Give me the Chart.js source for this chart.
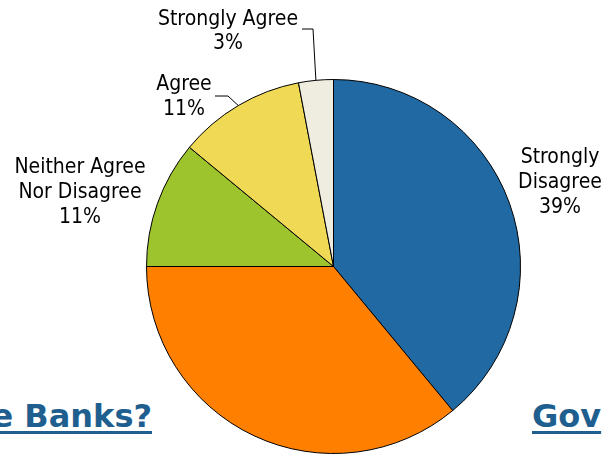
<!DOCTYPE html>
<html>
<head>
<meta charset="utf-8">
<script src="https://cdn.jsdelivr.net/npm/chart.js@4/dist/chart.umd.min.js"></script>
<style>
  html, body { margin: 0; padding: 0; background: #fff; overflow: hidden; }
  #wrap { position: relative; width: 604px; height: 454px; overflow: hidden; }
  #pie { position: absolute; left: 0; top: 0; }
  .head {
    position: absolute;
    font: bold 32px "DejaVu Sans", Verdana, sans-serif;
    color: #1f5f8f;
    text-decoration: underline;
    text-decoration-thickness: 3px;
    text-underline-offset: 4px;
    white-space: nowrap;
    line-height: 1;
  }
</style>
</head>
<body>
<div id="wrap">
  <span class="head" style="right:452px; top:400px;">e Banks?</span>
  <span class="head" style="left:532px; top:400px;">Gov</span>
  <canvas id="pie" width="604" height="454"></canvas>
</div>
<script>
// answers, clockwise from 12 o'clock
const categories = ['Strongly Disagree', 'Disagree', 'Neither Agree Nor Disagree', 'Agree', 'Strongly Agree'];
const shares = [39, 36, 11, 11, 3];
const sliceColors = ['#2169a3', '#ff7f00', '#9dc42c', '#f0d955', '#efede0'];

// how each label is written (the orange slice has none)
const labelLines = [
    ['Strongly', 'Disagree'],
    null,
    ['Neither Agree', 'Nor Disagree'],
    ['Agree'],
    ['Strongly Agree']
];

// label block: centre x, first baseline, line step; optional leader from text to slice edge
const labelSpots = [
    { x: 560, y: 163, step: 25 },
    null,
    { x: 80, y: 173, step: 25 },
    { x: 184, y: 90, step: 25, leader: [[215, 96], [228, 96]] },
    { x: 228, y: 25, step: 24, leader: [[302, 29], [313, 29]] }
];

const pieLabels = {
    id: 'pieLabels',
    afterDatasetsDraw(chart) {
        const ctx = chart.ctx;
        const arcs = chart.getDatasetMeta(0).data;
        ctx.save();
        ctx.fillStyle = '#000';
        ctx.font = '21px "DejaVu Sans Condensed", "DejaVu Sans", sans-serif';
        ctx.textAlign = 'center';
        ctx.textBaseline = 'alphabetic';
        labelSpots.forEach((spot, i) => {
            if (!spot) return;
            const lines = labelLines[i].concat([shares[i] + '%']);
            lines.forEach((t, k) => ctx.fillText(t, spot.x, spot.y + k * spot.step));

            if (spot.leader) {
                const a = arcs[i];
                const mid = (a.startAngle + a.endAngle) / 2;
                const ex = a.x + Math.cos(mid) * a.outerRadius;
                const ey = a.y + Math.sin(mid) * a.outerRadius;
                ctx.strokeStyle = '#000';
                ctx.lineWidth = 1;
                ctx.beginPath();
                ctx.moveTo(spot.leader[0][0], spot.leader[0][1]);
                spot.leader.slice(1).forEach(p => ctx.lineTo(p[0], p[1]));
                ctx.lineTo(ex, ey);
                ctx.stroke();
            }
        });
        ctx.restore();
    }
};

new Chart(document.getElementById('pie').getContext('2d'), {
    type: 'pie',
    data: {
        labels: categories,
        datasets: [{
            data: shares,
            backgroundColor: sliceColors,
            borderColor: '#000',
            borderWidth: 1
        }]
    },
    options: {
        responsive: false,
        animation: false,
        radius: 187,
        layout: { padding: { left: 146, right: 83, top: 79, bottom: 0 } },
        plugins: {
            legend: { display: false },
            tooltip: { enabled: false }
        }
    },
    plugins: [pieLabels]
});
</script>
</body>
</html>
